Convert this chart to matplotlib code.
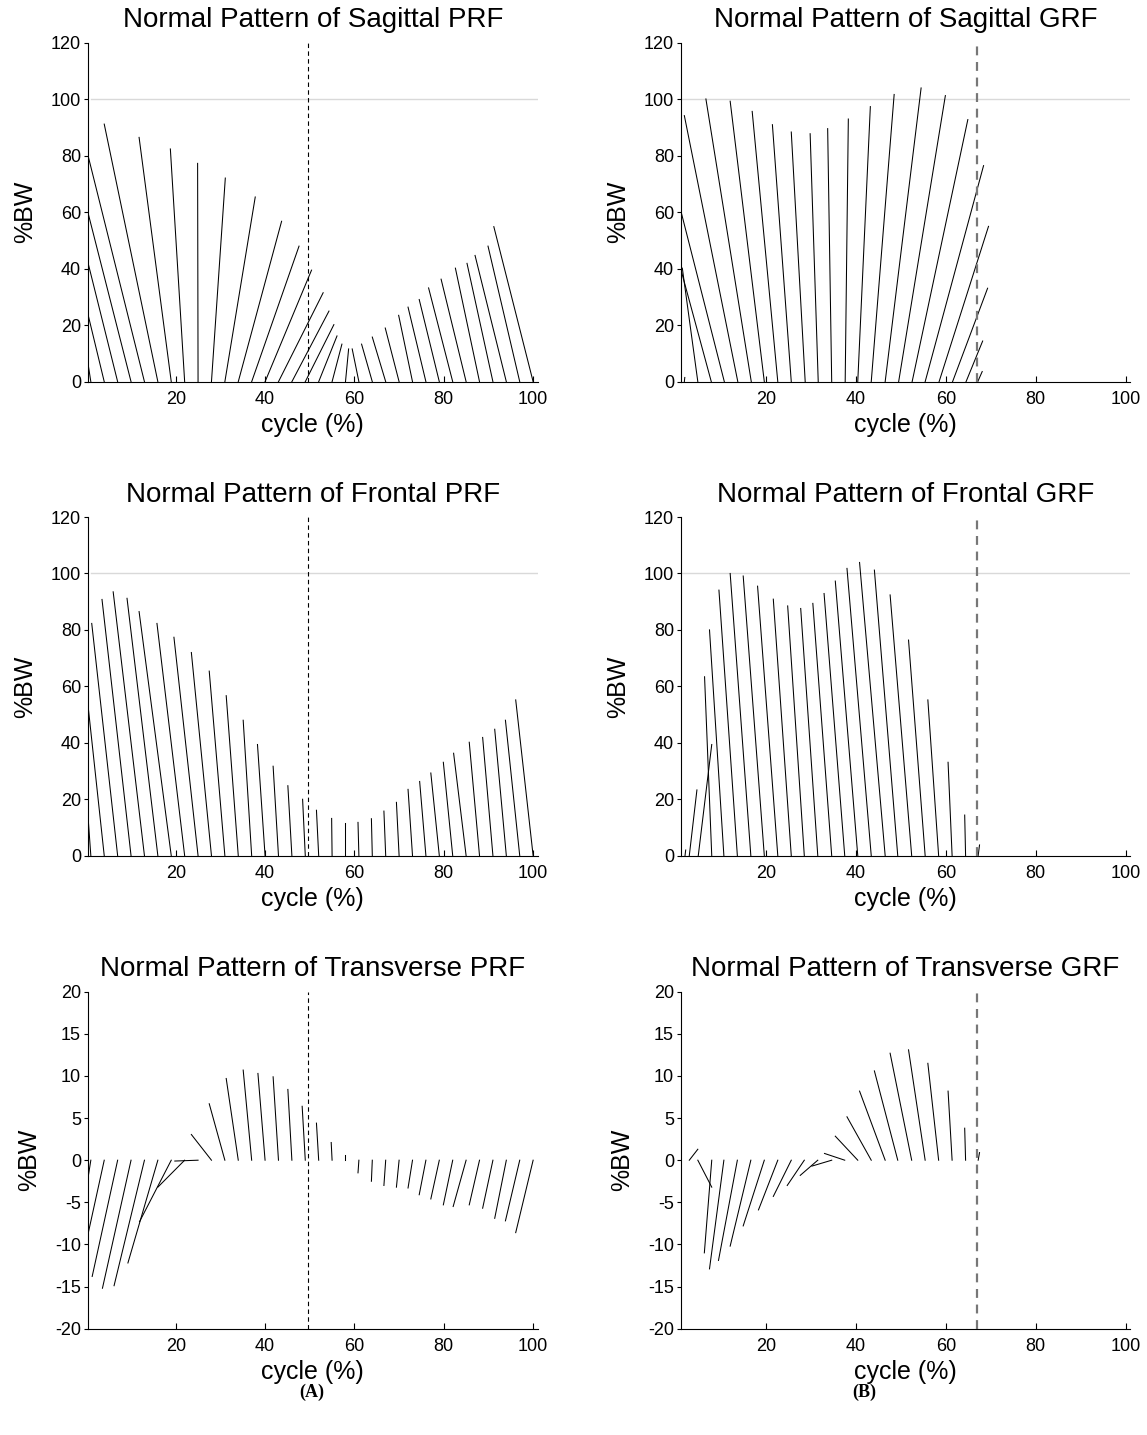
import matplotlib.pyplot as plt
import numpy as np

plt.rcParams['font.family'] = ['Liberation Sans', 'DejaVu Sans']
plt.rcParams['axes.unicode_minus'] = False

# cycle (%) at which each force vector starts (on y = 0) and where its tip ends
prf_base = [1, 4, 7, 10, 13, 16, 19, 22, 25, 28, 31, 34, 37, 40, 43, 46, 49,
            52, 55, 58, 61, 64, 67, 70, 73, 76, 79, 82, 85, 88, 91, 94, 97, 100]

sag_prf_tip_x = [0.4, 0.4, 0.4, 0.4, 0.4, 4.0, 11.8, 18.8, 24.9, 31.1, 37.8, 43.7,
                 47.6, 50.4, 53.0, 54.3, 55.4, 56.1, 57.2, 58.7, 59.5, 61.6, 64.0,
                 66.9, 69.9, 72.0, 74.5, 76.6, 79.4, 82.6, 85.2, 87.0, 89.9, 91.2]
sag_prf_tip_y = [6.1, 23.6, 41.9, 59.6, 79.9, 91.2, 86.5, 82.4, 77.3, 72.1, 65.4, 56.8,
                 48.0, 39.5, 31.5, 25.0, 20.2, 16.2, 13.3, 11.6, 11.6, 13.3, 15.8,
                 19.0, 23.5, 26.4, 29.1, 33.2, 36.3, 40.2, 41.9, 44.7, 48.0, 54.9]

fro_prf_tip_x = [0.4, 0.4, 1.2, 3.5, 6.0, 9.1, 11.8, 15.8, 19.6, 23.5, 27.5, 31.3,
                 35.1, 38.3, 41.8, 45.1, 48.4, 51.5, 54.9, 58.0, 60.8, 63.8, 66.6,
                 69.4, 72.0, 74.6, 77.1, 79.9, 82.2, 85.7, 88.7, 91.4, 93.8, 96.1]
fro_prf_tip_y = [13.2, 52.8, 82.3, 90.8, 93.5, 91.2, 86.5, 82.3, 77.4, 72.0, 65.4, 56.7,
                 48.0, 39.4, 31.7, 24.8, 20.0, 16.1, 13.2, 11.7, 11.8, 13.1, 15.8,
                 18.9, 23.5, 26.3, 29.3, 33.1, 36.3, 40.2, 41.9, 44.8, 48.0, 55.2]

tra_prf_tip_x = [0.4, 0.4, 1.3, 3.6, 6.2, 9.3, 11.9, 16.0, 19.8, 23.5, 27.5, 31.3,
                 35.1, 38.4, 41.8, 45.1, 48.3, 51.5, 54.8, 58.0, 60.8, 63.8, 66.6,
                 69.4, 72.0, 74.5, 77.1, 79.9, 82.1, 85.7, 88.7, 91.4, 93.8, 96.1]
tra_prf_tip_y = [-2.0, -8.7, -13.8, -15.2, -14.9, -12.2, -7.3, -3.2, -0.1, 3.05, 6.7, 9.7,
                 10.7, 10.3, 9.9, 8.4, 6.4, 4.4, 2.1, 0.6, -1.5, -2.5, -3.0,
                 -3.2, -3.3, -4.1, -4.6, -5.3, -5.5, -5.3, -5.7, -6.9, -7.2, -8.6]

sag_grf_base = [1.8, 4.8, 7.8, 10.7, 13.7, 16.7, 19.6, 22.6, 25.6, 28.7, 31.6, 34.6,
                37.6, 40.4, 43.4, 46.5, 49.5, 52.5, 55.4, 58.5, 61.5, 64.5, 67.1]
sag_grf_tip_x = [1.9, 1.35, 1.05, 1.05, 1.8, 6.6, 12.0, 16.9, 21.4, 25.6, 29.8, 33.7,
                 38.3, 43.2, 48.5, 54.5, 59.9, 64.9, 68.4, 69.5, 69.3, 68.2, 68.1]
sag_grf_tip_y = [1.5, 40.2, 39.6, 60.3, 94.2, 100.1, 99.3, 95.7, 91.0, 88.4, 87.8, 89.6,
                 93.0, 97.4, 101.7, 104.0, 101.3, 92.8, 76.5, 55.0, 33.1, 14.4, 3.6]

fro_grf_base = [1.95, 2.9, 4.9, 7.9, 10.6, 13.6, 16.6, 19.6, 22.6, 25.6, 28.5, 31.5,
                34.6, 37.5, 40.4, 43.4, 46.5, 49.3, 52.4, 55.4, 58.4, 61.4, 64.4, 67.2]
fro_grf_tip_x = [2.1, 4.6, 7.9, 6.3, 7.4, 9.5, 12.0, 14.9, 18.1, 21.6, 24.8, 27.7,
                 30.4, 32.9, 35.4, 38.0, 40.8, 44.1, 47.6, 51.7, 56.0, 60.5, 64.2, 67.5]
fro_grf_tip_y = [2.0, 23.3, 39.4, 63.4, 80.0, 94.1, 100.0, 99.1, 95.5, 90.9, 88.5, 87.6,
                 89.4, 92.9, 97.3, 101.8, 103.9, 101.2, 92.4, 76.4, 55.2, 33.1, 14.4, 3.8]

tra_grf_base = [2.9, 4.8, 7.9, 10.6, 13.6, 16.6, 19.6, 22.6, 25.6, 28.5, 31.5, 34.6,
                37.5, 40.4, 43.4, 46.5, 49.3, 52.4, 55.4, 58.4, 61.4, 64.4, 67.2]
tra_grf_tip_x = [4.8, 7.9, 6.25, 7.4, 9.4, 12.0, 14.9, 18.3, 21.6, 24.7, 27.6, 30.2,
                 33.0, 35.4, 38.0, 40.8, 44.1, 47.6, 51.7, 56.0, 60.5, 64.2, 67.5]
tra_grf_tip_y = [1.3, -3.2, -11.0, -12.9, -11.9, -10.2, -7.8, -5.9, -4.3, -3.0, -1.8, -0.7,
                 0.8, 2.85, 5.15, 8.2, 10.6, 12.7, 13.1, 11.5, 8.2, 3.8, 0.9]

# toe-off markers
prf_toe_off = 49.5
grf_toe_off = 67.0

fig = plt.figure(figsize=(11.47, 14.35), dpi=100)

col_left = [0.0767, 0.5937]
col_width = [0.392, 0.3915]
row_bottom = [0.734, 0.4037, 0.0741]
row_height = [0.2362, 0.236, 0.2348]


def draw_panel(ax, base, tip_x, tip_y, title, xlim, transverse, toe_off, dash_color, dash_lw):
    if not transverse:
        ax.plot([1, 101], [100, 100], color='#d9d9d9', lw=1.0, zorder=1)
    for b, tx, ty in zip(base, tip_x, tip_y):
        ax.plot([b, tx], [0, ty], color='black', lw=0.75, zorder=2)
    ax.axvline(toe_off, color=dash_color, lw=dash_lw, ls=(0, (4, 3)), zorder=3)

    ax.set_xlim(*xlim)
    if transverse:
        ax.set_ylim(-20, 20)
        ax.set_yticks(np.arange(-20, 21, 5))
    else:
        ax.set_ylim(0, 120)
        ax.set_yticks(np.arange(0, 121, 20))
    ax.set_xticks([20, 40, 60, 80, 100])

    for s in ['top', 'right']:
        ax.spines[s].set_visible(False)
    for s in ['left', 'bottom']:
        ax.spines[s].set_linewidth(0.8)
    ax.tick_params(axis='x', direction='in', length=4, width=0.8, labelsize=13, pad=7)
    ax.tick_params(axis='y', direction='out', length=3, width=0.8, labelsize=13, pad=2)

    ax.set_title(title, fontsize=20, pad=11)
    ax.set_xlabel('cycle (%)', fontsize=18, labelpad=3)
    ax.set_ylabel('%BW', fontsize=18, labelpad=10)


panels = [
    (0, 0, prf_base, sag_prf_tip_x, sag_prf_tip_y, 'Normal Pattern of Sagittal PRF', False),
    (1, 0, prf_base, fro_prf_tip_x, fro_prf_tip_y, 'Normal Pattern of Frontal PRF', False),
    (2, 0, prf_base, tra_prf_tip_x, tra_prf_tip_y, 'Normal Pattern of Transverse PRF', True),
    (0, 1, sag_grf_base, sag_grf_tip_x, sag_grf_tip_y, 'Normal Pattern of Sagittal GRF', False),
    (1, 1, fro_grf_base, fro_grf_tip_x, fro_grf_tip_y, 'Normal Pattern of Frontal GRF', False),
    (2, 1, tra_grf_base, tra_grf_tip_x, tra_grf_tip_y, 'Normal Pattern of Transverse GRF', True),
]

for r, c, base, tx, ty, title, transverse in panels:
    ax = fig.add_axes([col_left[c], row_bottom[r], col_width[c], row_height[r]])
    if c == 0:
        draw_panel(ax, base, tx, ty, title, (0.36, 101.0), transverse,
                   prf_toe_off, 'black', 0.8)
    else:
        draw_panel(ax, base, tx, ty, title, (1.05, 101.0), transverse,
                   grf_toe_off, '#777777', 1.6)

fig.text(312 / 1147, 1 - 1392 / 1435, '(A)', ha='center', va='center',
         fontsize=13, fontweight='bold', family='Liberation Serif')
fig.text(864 / 1147, 1 - 1392 / 1435, '(B)', ha='center', va='center',
         fontsize=13, fontweight='bold', family='Liberation Serif')

fig.savefig('out.png', dpi=100)
